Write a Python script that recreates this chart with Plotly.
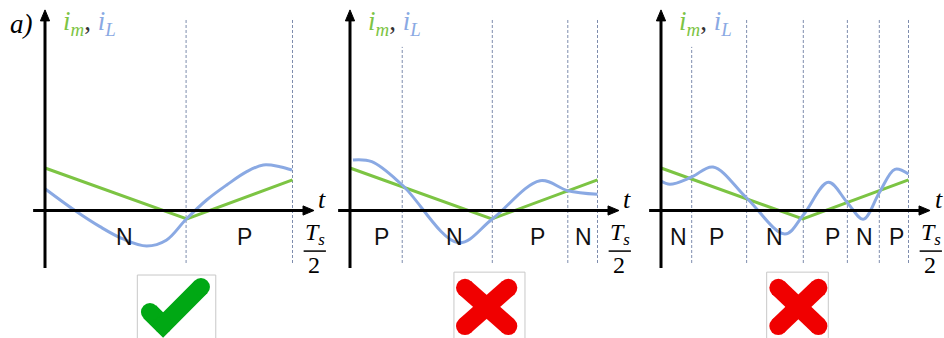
import plotly.graph_objects as go

# ---------------------------------------------------------------
# Waveforms over one half switching period.
# t is measured in units of Ts/2, currents in arbitrary units.
# ---------------------------------------------------------------
t_im = [0.0, 0.573, 1.0]
i_m = [1.0, -0.2, 0.72]

t_iL_a = [0.0, 0.121, 0.222, 0.315, 0.411, 0.490, 0.570, 0.653,
          0.734, 0.815, 0.882, 0.949, 0.998]
i_L_a = [0.513, 0.0, -0.38, -0.67, -0.835, -0.70, -0.207, 0.247,
         0.60, 0.913, 1.071, 1.031, 0.953]

t_iL_b = [0.012, 0.088, 0.211, 0.438, 0.575, 0.768, 0.880, 1.0]
i_L_b = [1.188, 1.148, 0.60, -0.758, -0.2, 0.701, 0.466, 0.381]

t_iL_c = [0.0, 0.036, 0.124, 0.210, 0.346, 0.501, 0.575, 0.676,
          0.753, 0.817, 0.882, 0.945, 1.0]
i_L_c = [0.694, 0.616, 0.788, 1.024, 0.294, -0.553, -0.106, 0.664,
         0.184, -0.207, 0.419, 0.969, 0.859]

# switching instants (interval boundaries)
bounds_a = [0.57, 1.0]
bounds_b = [0.211, 0.575, 0.88, 1.0]
bounds_c = [0.124, 0.346, 0.575, 0.753, 0.882, 1.0]

# interval polarity labels and their centres
modes_a = ["N", "P"]
mode_t_a = [0.323, 0.808]
modes_b = ["P", "N", "P", "N"]
mode_t_b = [0.129, 0.424, 0.756, 0.943]
modes_c = ["N", "P", "N", "P", "N", "P"]
mode_t_c = [0.069, 0.226, 0.457, 0.691, 0.824, 0.953]

panel_tags = ["<i>a)</i>", "b)", "c)"]
verdicts = ["ok", "bad", "bad"]

# ---------------------------------------------------------------
# Figure geometry
# ---------------------------------------------------------------
FIG_W, FIG_H = 944, 338
PX_PER_T = 247.5          # pixels for Ts/2
Y_RANGE = [-3.0, 4.953]   # vertical range shared by all panels
PX_PER_I = FIG_H / (Y_RANGE[1] - Y_RANGE[0])
origins_px = [45, 350, 661]          # where t = 0 sits horizontally
domains_px = [(0, 333), (333, 640), (640, 944)]

GREEN = "#7cc443"
BLUE = "#8aa9e3"
DASH = "#7d8cad"
BLACK = "#000000"
MATH_FONT = "Liberation Serif"
TEXT_FONT = "Liberation Sans"

# axis extents (data units)
T_AX0, T_AX1 = -0.048, 1.087
I_AX0, I_AX1 = -1.353, 4.72
HEAD_LEN, HEAD_HALF = 11.0, 4.6   # arrow head size in pixels

panels = [
    dict(t_L=t_iL_a, i_L=i_L_a, bounds=bounds_a, modes=modes_a, mode_t=mode_t_a),
    dict(t_L=t_iL_b, i_L=i_L_b, bounds=bounds_b, modes=modes_b, mode_t=mode_t_b),
    dict(t_L=t_iL_c, i_L=i_L_c, bounds=bounds_c, modes=modes_c, mode_t=mode_t_c),
]

quantity_label = (
    "<span style='color:%s'><i>i</i><sub><i>m</i></sub></span>"
    "<span style='color:#333333'>, </span>"
    "<span style='color:%s'><i>i</i><sub><i>L</i></sub></span>"
) % (GREEN, BLUE)

fig = go.Figure()
layout_axes = {}
shapes = []
annotations = []

for k, p in enumerate(panels):
    n = "" if k == 0 else str(k + 1)
    xr, yr = "x" + n, "y" + n
    d0, d1 = domains_px[k]
    o = origins_px[k]
    layout_axes["xaxis" + n] = dict(
        domain=[d0 / FIG_W, d1 / FIG_W],
        range=[(d0 - o) / PX_PER_T, (d1 - o) / PX_PER_T],
        visible=False, fixedrange=True,
    )
    layout_axes["yaxis" + n] = dict(
        domain=[0, 1], range=Y_RANGE, anchor=xr, visible=False, fixedrange=True,
    )

    # switching instants as dashed verticals
    for tb in p["bounds"]:
        top = 3.85 if tb < 0.3 else 4.53
        shapes.append(dict(type="line", xref=xr, yref=yr, x0=tb, x1=tb,
                           y0=-1.235, y1=top, layer="below",
                           line=dict(color=DASH, width=1, dash="3px,2px")))

    # coordinate axes with arrow heads
    hl_t, hh_t = HEAD_LEN / PX_PER_T, HEAD_HALF / PX_PER_T
    hl_i, hh_i = HEAD_LEN / PX_PER_I, HEAD_HALF / PX_PER_I
    shapes.append(dict(type="line", xref=xr, yref=yr, x0=0, x1=0,
                       y0=I_AX0, y1=I_AX1 - hl_i * 0.8,
                       line=dict(color=BLACK, width=3)))
    shapes.append(dict(type="path", xref=xr, yref=yr,
                       path="M %f,%f L %f,%f L %f,%f Z" % (
                           0, I_AX1, -hh_t, I_AX1 - hl_i, hh_t, I_AX1 - hl_i),
                       fillcolor=BLACK, line=dict(color=BLACK, width=1)))
    shapes.append(dict(type="line", xref=xr, yref=yr, x0=T_AX0,
                       x1=T_AX1 - hl_t * 0.8, y0=0, y1=0,
                       line=dict(color=BLACK, width=3)))
    shapes.append(dict(type="path", xref=xr, yref=yr,
                       path="M %f,%f L %f,%f L %f,%f Z" % (
                           T_AX1, 0, T_AX1 - hl_t, hh_i, T_AX1 - hl_t, -hh_i),
                       fillcolor=BLACK, line=dict(color=BLACK, width=1)))

    # magnetising current (piecewise linear)
    fig.add_trace(go.Scatter(x=t_im, y=i_m, xaxis=xr, yaxis=yr, mode="lines",
                             line=dict(color=GREEN, width=3), hoverinfo="skip",
                             showlegend=False))
    # resonant inductor current (smooth)
    fig.add_trace(go.Scatter(x=p["t_L"], y=p["i_L"], xaxis=xr, yaxis=yr,
                             mode="lines",
                             line=dict(color=BLUE, width=3, shape="spline",
                                       smoothing=1.0),
                             hoverinfo="skip", showlegend=False))
    # interval polarity labels
    for lab, tm in zip(p["modes"], p["mode_t"]):
        annotations.append(dict(xref=xr, yref=yr, x=tm, y=-0.62, text=lab,
                                showarrow=False, xanchor="center", yanchor="middle",
                                font=dict(family=TEXT_FONT, size=23, color="#111111")))

    # panel tag
    annotations.append(dict(xref=xr, yref=yr, x=-0.095, y=4.4, text=panel_tags[k],
                            showarrow=False, xanchor="center", yanchor="middle",
                            font=dict(family=MATH_FONT if k == 0 else TEXT_FONT,
                                      size=27 if k == 0 else 23, color=BLACK)))
    # quantity label
    annotations.append(dict(
        xref=xr, yref=yr, x=0.066, y=4.42, xanchor="left", yanchor="middle",
        showarrow=False, text=quantity_label,
        font=dict(family=MATH_FONT, size=27)))
    # time axis label and Ts/2 marker
    tx = 1.12 if k < 2 else 1.125
    annotations.append(dict(xref=xr, yref=yr, x=tx, y=0.27, text="<i>t</i>",
                            showarrow=False, xanchor="center", yanchor="middle",
                            font=dict(family=MATH_FONT, size=26, color=BLACK)))
    annotations.append(dict(xref=xr, yref=yr, x=1.09, y=-0.55,
                            text="<i>T</i><sub><i>s</i></sub>",
                            showarrow=False, xanchor="center", yanchor="middle",
                            font=dict(family=MATH_FONT, size=24, color=BLACK)))
    shapes.append(dict(type="line", xref=xr, yref=yr, x0=1.045, x1=1.135,
                       y0=-0.955, y1=-0.955, line=dict(color=BLACK, width=1.5)))
    annotations.append(dict(xref=xr, yref=yr, x=1.085, y=-1.28, text="2",
                            showarrow=False, xanchor="center", yanchor="middle",
                            font=dict(family=MATH_FONT, size=24, color=BLACK)))

    # verdict icon in a framed box below the panel
    if verdicts[k] == "ok":
        shapes.append(dict(type="rect", xref=xr, yref=yr, x0=0.373, x1=0.690,
                           y0=-1.518, y1=-3.2, layer="below",
                           line=dict(color="#c8c8c8", width=1), fillcolor="white"))
        fig.add_trace(go.Scatter(x=[0.424, 0.477, 0.630], y=[-2.388, -2.694, -1.80],
                                 xaxis=xr, yaxis=yr, mode="lines+markers",
                                 line=dict(color="#00a814", width=18),
                                 marker=dict(color="#00a814", size=18),
                                 hoverinfo="skip", showlegend=False))
    else:
        c0 = 0.420 if k == 1 else 0.427
        c1 = 0.707 if k == 1 else 0.676
        shapes.append(dict(type="rect", xref=xr, yref=yr, x0=c0, x1=c1,
                           y0=-1.45, y1=-3.2, layer="below",
                           line=dict(color="#c8c8c8", width=1), fillcolor="white"))
        a0 = 0.4646 if k == 1 else 0.474
        a1 = 0.6396 if k == 1 else 0.636
        for xs in ([a0, a1], [a1, a0]):
            fig.add_trace(go.Scatter(x=xs, y=[-1.82, -2.72], xaxis=xr, yaxis=yr,
                                     mode="lines+markers",
                                     line=dict(color="#f00000", width=18),
                                     marker=dict(color="#f00000", size=18),
                                     hoverinfo="skip", showlegend=False))

fig.update_layout(
    width=FIG_W, height=FIG_H,
    margin=dict(l=0, r=0, t=0, b=0),
    paper_bgcolor="white", plot_bgcolor="white",
    shapes=shapes, annotations=annotations,
    **layout_axes,
)

fig.write_html("out.html")
